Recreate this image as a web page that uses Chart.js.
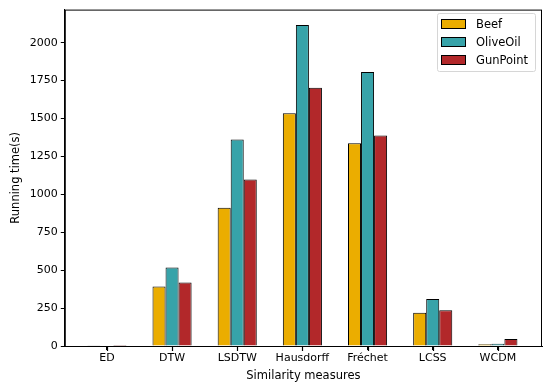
<!DOCTYPE html>
<html>
<head>
<meta charset="utf-8">
<script src="https://cdn.jsdelivr.net/npm/chart.js@4.4.1/dist/chart.umd.min.js"></script>
<style>
  html, body { margin: 0; padding: 0; background: #fff; }
  #wrap { width: 550px; height: 388px; }
</style>
</head>
<body>
<div id="wrap"><canvas id="timeChart" width="550" height="388"></canvas></div>
<script>
// Similarity measures on the x axis
const measures = ["ED", "DTW", "LSDTW", "Hausdorff", "Fréchet", "LCSS", "WCDM"];

// Running time (s) per dataset
const beefTimes = [2, 392, 912, 1535, 1337, 220, 12];
const oliveOilTimes = [3, 517, 1362, 2116, 1806, 310, 15];
const gunPointTimes = [7, 418, 1097, 1703, 1388, 235, 46];

const seriesNames = ["Beef", "OliveOil", "GunPoint"];
const seriesColors = ["#ebad00", "#37a3a9", "#b2282a"];

const yTicks = [0, 250, 500, 750, 1000, 1250, 1500, 1750, 2000];

const FONT = "'DejaVu Sans', sans-serif";

// matplotlib-style box around the axes, x tick marks, and a legend in the top right corner
const framePlugin = {
    id: "frame",
    afterDraw(chart) {
        const { ctx, chartArea: a } = chart;
        const xs = chart.scales.x;
        ctx.save();
        ctx.strokeStyle = "#000";
        ctx.lineWidth = 1;
        ctx.strokeRect(a.left + 0.5, a.top + 0.5, a.right - a.left - 1, a.bottom - a.top);

        // tick marks under the category labels
        ctx.lineWidth = 1.2;
        measures.forEach((m, i) => {
            const px = Math.round(xs.getPixelForValue(i)) + 0.5;
            ctx.beginPath();
            ctx.moveTo(px, a.bottom);
            ctx.lineTo(px, a.bottom + 5);
            ctx.stroke();
        });
        ctx.lineWidth = 1;

        // legend
        const bx = 437, by = 13, bw = 98, bh = 58;
        ctx.fillStyle = "rgba(255,255,255,0.8)";
        ctx.strokeStyle = "#d6d6d6";
        ctx.beginPath();
        ctx.roundRect(bx + 0.5, by + 0.5, bw, bh, 2);
        ctx.fill();
        ctx.stroke();
        ctx.font = "11.5px " + FONT;
        ctx.textBaseline = "middle";
        seriesNames.forEach((name, i) => {
            const cy = by + 11 + i * 18;
            ctx.fillStyle = seriesColors[i];
            ctx.fillRect(441, cy - 4.5, 25, 9);
            ctx.strokeStyle = "#000";
            ctx.strokeRect(441.5, cy - 4.5, 24, 9);
            ctx.fillStyle = "#000";
            ctx.fillText(name, 476, cy + 1);
        });
        ctx.restore();
    }
};

const allSeries = [beefTimes, oliveOilTimes, gunPointTimes];

const ctx = document.getElementById("timeChart").getContext("2d");
new Chart(ctx, {
    type: "bar",
    data: {
        datasets: allSeries.map((values, s) => ({
            label: seriesNames[s],
            data: values.map((v, i) => ({ x: i, y: v })),
            backgroundColor: seriesColors[s],
            borderColor: "#000",
            borderWidth: 1,
            borderSkipped: "bottom",
            categoryPercentage: 0.6,
            barPercentage: 1.0
        }))
    },
    options: {
        responsive: false,
        animation: false,
        layout: { padding: { left: 9, right: 8, top: 6, bottom: 5 } },
        plugins: {
            legend: { display: false },
            tooltip: { enabled: false }
        },
        scales: {
            x: {
                type: "linear",
                min: -0.646,
                max: 6.677,
                offset: false,
                grid: { display: true, offset: false, drawOnChartArea: false, drawTicks: true, tickLength: 4, color: "#000" },
                border: { display: true, color: "#000" },
                afterBuildTicks: axis => {
                    axis.ticks = measures.map((m, i) => ({ value: i }));
                },
                ticks: {
                    color: "#000",
                    font: { family: FONT, size: 11 },
                    padding: 2,
                    maxRotation: 0,
                    autoSkip: false,
                    callback: value => measures[value] ?? ""
                },
                title: {
                    display: true,
                    text: "Similarity measures",
                    color: "#000",
                    font: { family: FONT, size: 11.5 },
                    padding: { top: 2, bottom: 0 }
                }
            },
            y: {
                min: 0,
                max: 2218,
                grid: { display: true, drawOnChartArea: false, drawTicks: true, tickLength: 4, color: "#000" },
                border: { display: true, color: "#000" },
                afterBuildTicks: axis => {
                    axis.ticks = yTicks.map(v => ({ value: v }));
                },
                ticks: {
                    color: "#000",
                    font: { family: FONT, size: 11 },
                    padding: 3,
                    callback: value => String(value)
                },
                title: {
                    display: true,
                    text: "Running time(s)",
                    color: "#000",
                    font: { family: FONT, size: 11.5 },
                    padding: { top: 0, bottom: 4 }
                }
            }
        }
    },
    plugins: [framePlugin]
});
</script>
</body>
</html>
